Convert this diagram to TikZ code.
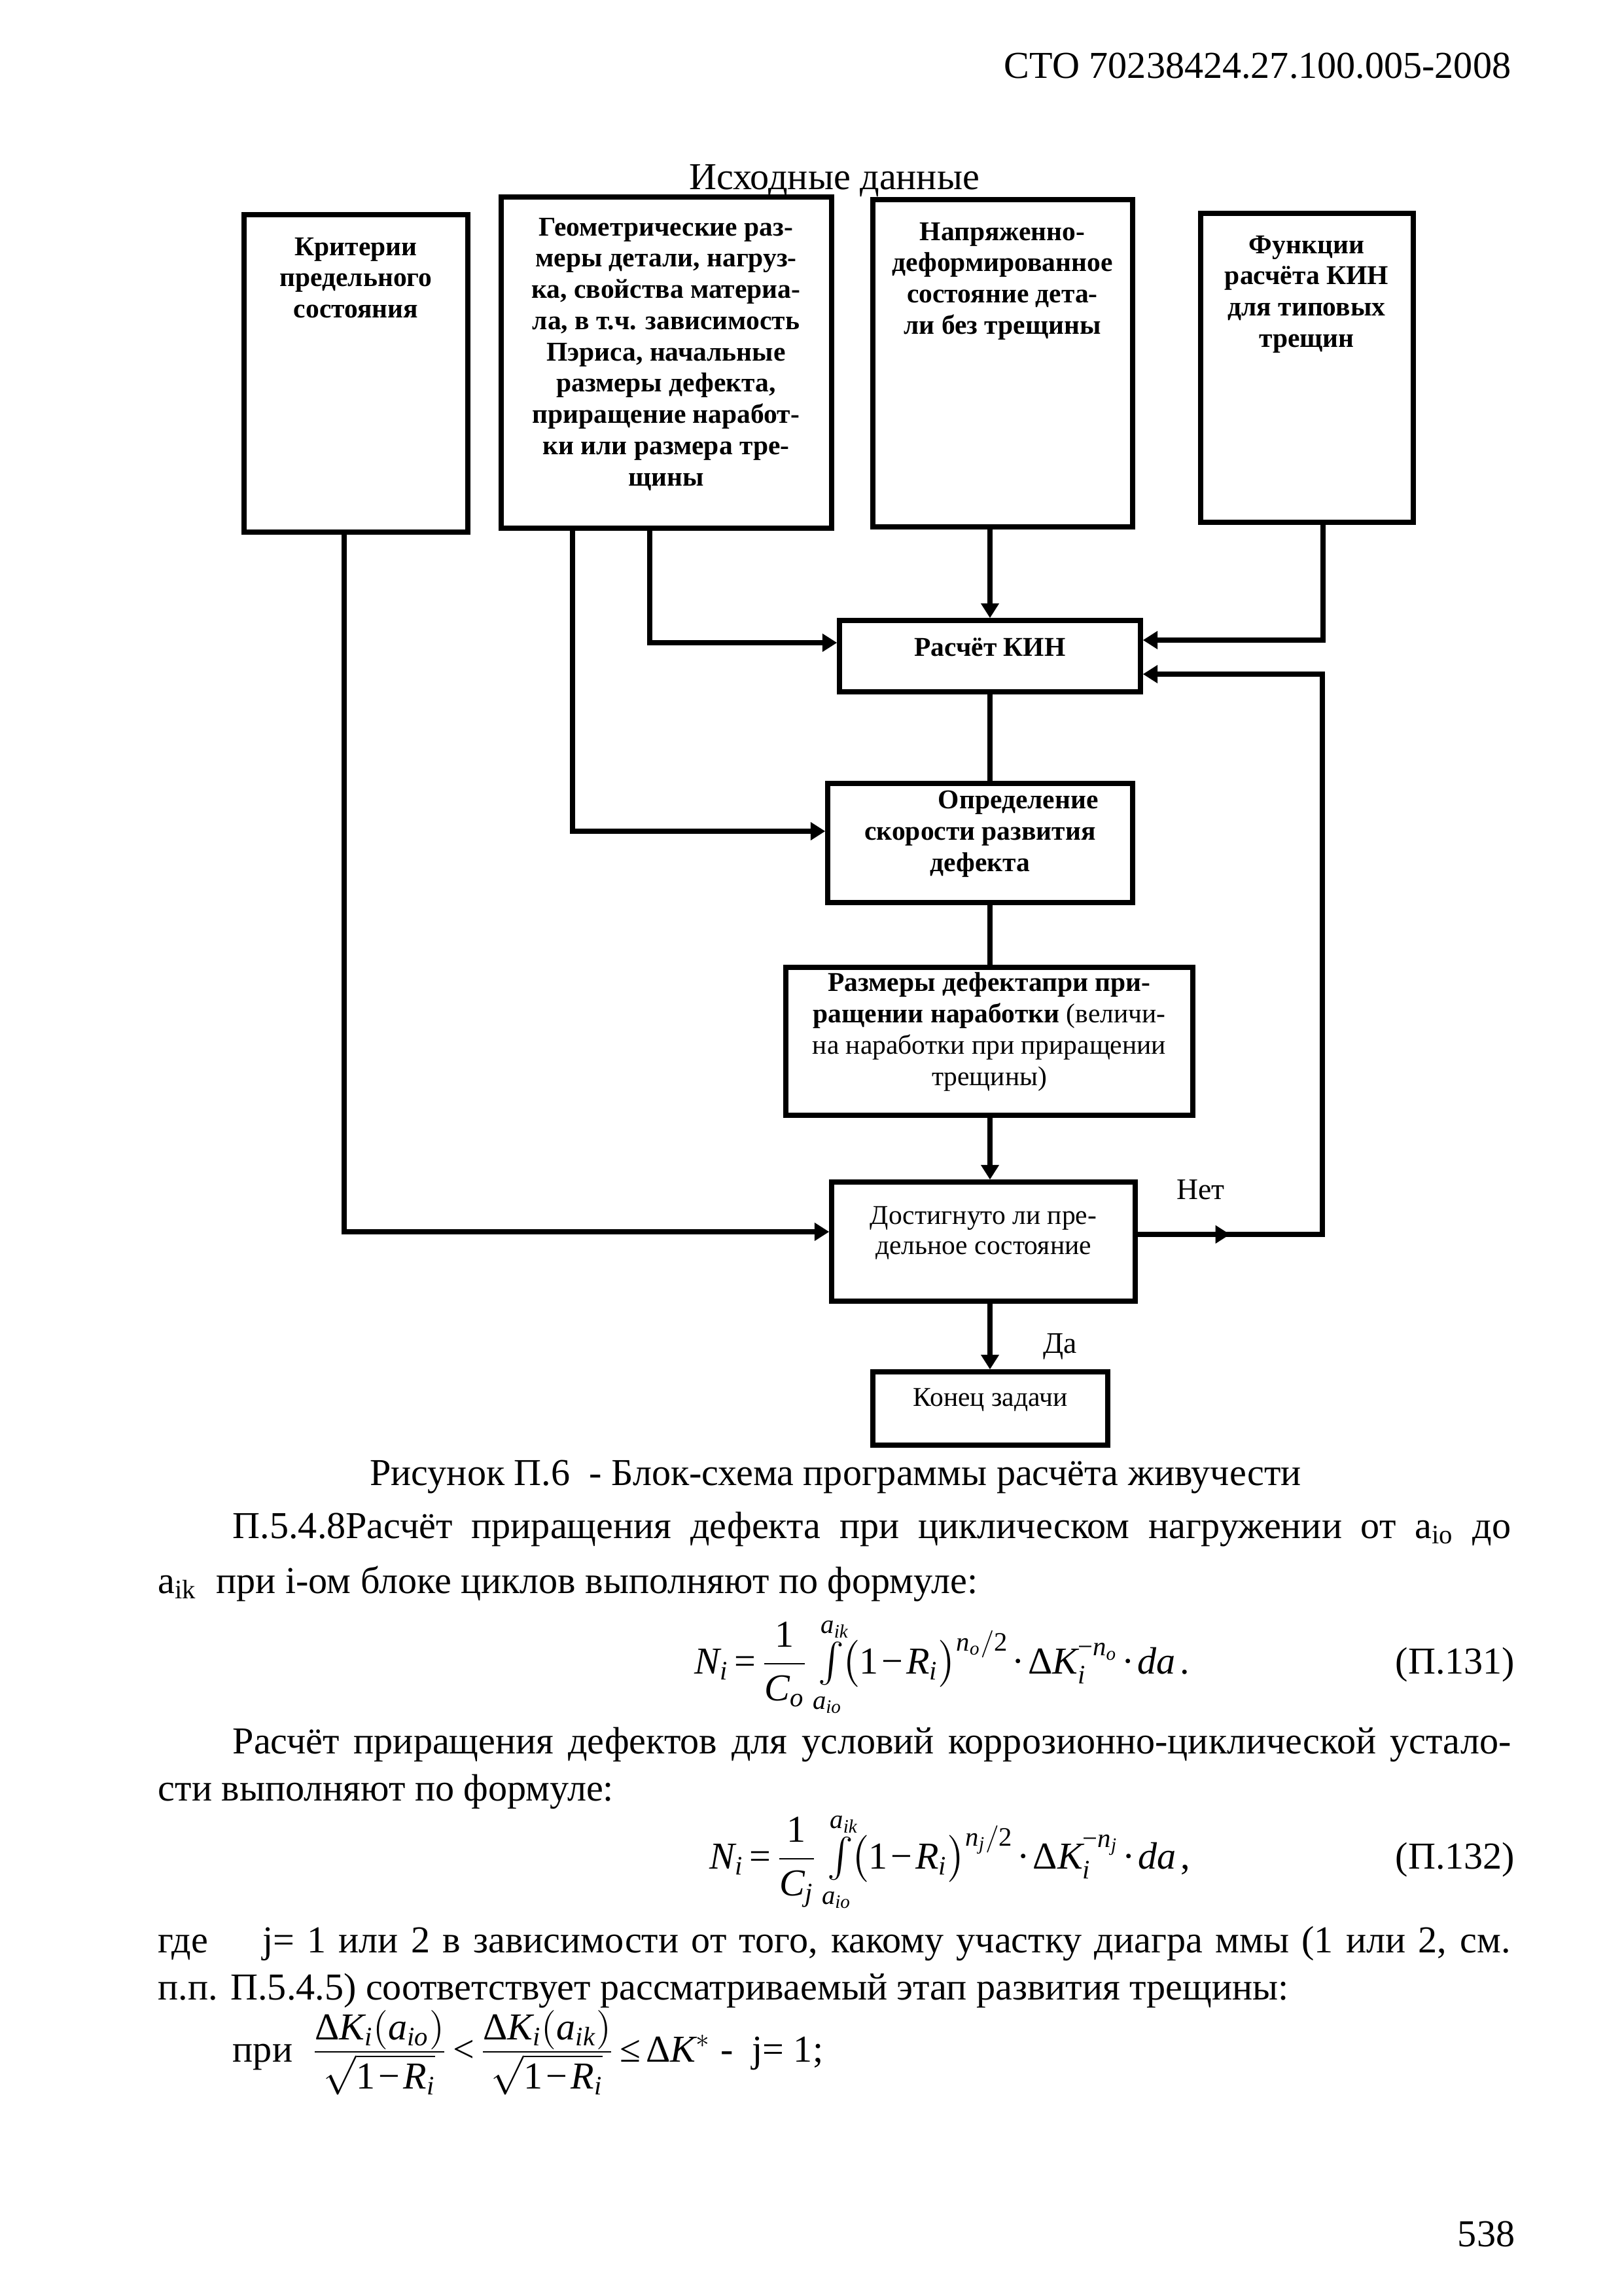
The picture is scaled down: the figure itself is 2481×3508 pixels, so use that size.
\documentclass[tikz,border=0pt]{standalone}
\usepackage{amsmath}
\usepackage{fontspec}
\setmainfont{Liberation Serif}
\usetikzlibrary{arrows.meta,fit}
\newcommand{\ti}[1]{\textit{#1}}
\newcommand{\tr}[1]{\textrm{#1}}
\newcommand{\mminus}{\mathbin{\tr{−}}}
\newcommand{\meq}{\mathrel{\tr{=}}}
\newcommand{\mdot}{\mathbin{\tr{·}}}
\newcommand{\mD}{\tr{Δ}}
\newcommand{\tight}{\medmuskip=1.5mu\thickmuskip=2.5mu\thinmuskip=2mu}
\begin{document}
\begin{tikzpicture}[x=0.084643mm,y=-0.084643mm,
  box/.style={draw, line width=1.8pt, inner sep=0pt, align=center},
  btext/.style={font=\fontsize{10}{11.5}\selectfont\bfseries, align=center, inner sep=0pt, anchor=north},
  ntext/.style={font=\fontsize{10}{11}\selectfont, align=center, inner sep=0pt},
  body/.style={font=\fontsize{14}{16}\selectfont, inner sep=0pt, anchor=base west},
  conn/.style={line width=1.8pt},
  arr/.style={line width=1.8pt, -{Triangle[length=5.4pt,width=6.4pt]}},
]
\path[use as bounding box, fill=white] (0,0) rectangle (2481,3508);

% boxes
\node[box, fit={(373,328) (715,813)}] (b1) {};
\node[btext] (b1t) at (544,362) {Критерии\\предельного\\состояния};
\node[box, fit={(766,301) (1271,807)}] (b2) {};
\node[btext] (b2t) at (1018,332) {Геометрические раз-\\меры детали, нагруз-\\ка, свойства материа-\\ла, в т.ч. зависимость\\Пэриса, начальные\\размеры дефекта,\\приращение наработ-\\ки или размера тре-\\щины};
\node[box, fit={(1334,305) (1731,805)}] (b3) {};
\node[btext] (b3t) at (1532,339) {Напряженно-\\деформированное\\состояние дета-\\ли без трещины};
\node[box, fit={(1835,326) (2160,798)}] (b4) {};
\node[btext] (b4t) at (1997,359) {Функции\\расчёта КИН\\для типовых\\трещин};

\node[box, fit={(1283,948) (1743,1057)}, font=\fontsize{10}{11.5}\selectfont\bfseries] (K) {Расчёт КИН};
\node[box, fit={(1265,1197) (1731,1379)}, font=\fontsize{10}{11.5}\selectfont\bfseries] (O) {\hspace*{28pt}Определение\\скорости развития\\дефекта};
\node[box, fit={(1201,1478) (1823,1704)}, font=\fontsize{10}{11.5}\selectfont] (R) {\textbf{Размеры дефектапри при-}\\\textbf{ращении наработки} (величи-\\на наработки при приращении\\трещины)};
\node[box, fit={(1271,1806) (1735,1988)}] (D) {};
\node[ntext] (Dt) at (1503,1884) {Достигнуто ли пре-\\дельное состояние};
\node[box, fit={(1334,2096) (1693,2208)}, font=\fontsize{10}{11}\selectfont] (E) {Конец задачи};

% connectors
\coordinate (c1) at (526,1882);
\coordinate (c2) at (875,1270);
\coordinate (c3) at (993,982);
\coordinate (c4) at (2022,978);
\coordinate (c5) at (2021,1886);
\coordinate (c6) at (2021,1030);
\coordinate (nettip) at (1880,1886);

\draw[arr] (b1.south -| c1) -- (c1) -- (c1 -| D.west);
\draw[arr] (b2.south -| c2) -- (c2) -- (c2 -| O.west);
\draw[arr] (b2.south -| c3) -- (c3) -- (c3 -| K.west);
\draw[arr] (b3.south -| K.north) -- (K.north);
\draw[arr] (b4.south -| c4) -- (c4) -- (c4 -| K.east);
\draw[conn] (K.south) -- (K.south |- O.north);
\draw[conn] (K.south |- O.south) -- (K.south |- R.north);
\draw[arr] (K.south |- R.south) -- (K.south |- D.north);
\draw[arr] (K.south |- D.south) -- (K.south |- E.north);
\draw[arr] (D.east |- c5) -- (c5) -- (c6) -- (c6 -| K.east);
\draw[arr] (D.east |- c5) -- (nettip);

\node[ntext, font=\fontsize{11}{12}\selectfont, anchor=base] (net) at (1835,1832) {Нет};
\node[ntext, font=\fontsize{11}{12}\selectfont, anchor=base] (da) at (1620,2067) {Да};

% page text
\node[body, anchor=base east] (hdr) at (2310,119) {СТО 70238424.27.100.005-2008};
\node[body, anchor=base] (src) at (1275,289) {Исходные данные};
\node[body, anchor=base] (cap) at (1277,2269) {Рисунок П.6 \ - Блок-схема программы расчёта живучести};
\node[body] (p1) at (355,2350) {\makebox[470.5pt][s]{П.5.4.8Расчёт приращения дефекта при циклическом нагружении от a\textsubscript{io} до}};
\node[body] (p2) at (241,2434) {a\textsubscript{ik}\ \ при i-ом блоке циклов выполняют по формуле:};
\node[body] (f1) at (1061,2557) {\tight$\displaystyle \ti{N}_{\ti{i}} \meq \frac{\tr{1}}{\ti{C}_{\ti{o}}}\,\textstyle\int\limits_{\ti{a}_{\ti{io}}}^{\ti{a}_{\ti{ik}}}\displaystyle\!\bigl(\tr{1}\mminus\ti{R}_{\ti{i}}\bigr)^{\ti{n}_{\ti{o}}/\tr{2}}\mdot\mD\ti{K}_{\ti{i}}^{\mminus\ti{n}_{\ti{o}}}\mdot\ti{da}\,\tr{.}$};
\node[body, anchor=base east] (f1n) at (2316,2557) {(П.131)};
\node[body] (p3) at (355,2679) {\makebox[470.5pt][s]{Расчёт приращения дефектов для условий коррозионно-циклической устало-}};
\node[body] (p4) at (241,2751) {сти выполняют по формуле:};
\node[body] (f2) at (1084,2855) {\tight$\displaystyle \ti{N}_{\ti{i}} \meq \frac{\tr{1}}{\ti{C}_{\ti{j}}}\,\textstyle\int\limits_{\ti{a}_{\ti{io}}}^{\ti{a}_{\ti{ik}}}\displaystyle\!\bigl(\tr{1}\mminus\ti{R}_{\ti{i}}\bigr)^{\ti{n}_{\ti{j}}/\tr{2}}\mdot\mD\ti{K}_{\ti{i}}^{\mminus\ti{n}_{\ti{j}}}\mdot\ti{da}\,\tr{,}$};
\node[body, anchor=base east] (f2n) at (2316,2855) {(П.132)};
\node[body] (p5) at (241,2983) {\makebox[497.8pt][s]{где\hspace{20pt}j=\ 1 или 2 в зависимости от того, какому участку диагра ммы (1 или 2, см.}};
\node[body] (p6) at (241,3055) {п.п. П.5.4.5) соответствует рассматриваемый этап развития трещины:};
\node[body] (p7) at (355,3150) {\tight при\ \ $\textstyle\frac{\displaystyle\mD\ti{K}_{\ti{i}}(\ti{a}_{\ti{io}})}{\displaystyle\sqrt{\tr{1}\mminus\ti{R}_{\ti{i}}}}\mathrel{\tr{<}}\frac{\displaystyle\mD\ti{K}_{\ti{i}}(\ti{a}_{\ti{ik}})}{\displaystyle\sqrt{\tr{1}\mminus\ti{R}_{\ti{i}}}}\mathrel{\tr{≤}}\mD\ti{K}^{*}$ - \ j= 1;};
\node[body, anchor=base east] (pg) at (2316,3432) {538};
\end{tikzpicture}
\end{document}
